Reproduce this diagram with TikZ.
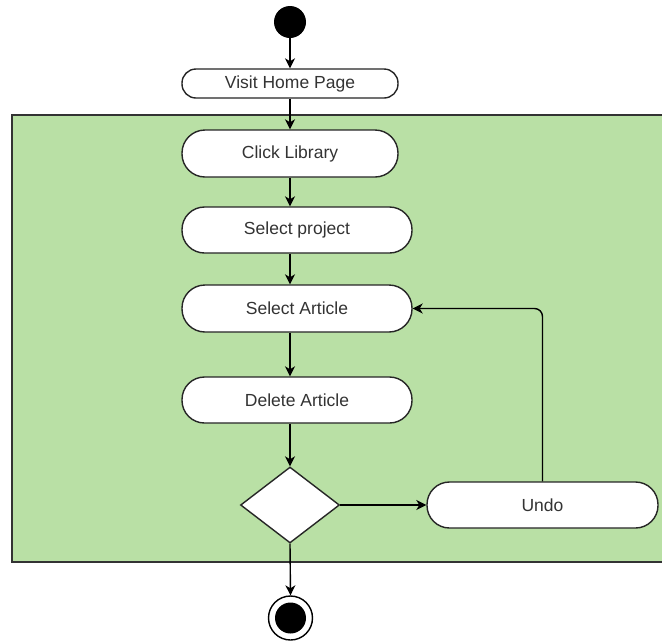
\documentclass[tikz,border=0pt]{standalone}
\usepackage{fontspec}
\setmainfont{Liberation Sans}
\usetikzlibrary{shapes.geometric,arrows.meta,calc}
\definecolor{groupgreen}{HTML}{B9E0A5}
\definecolor{txt}{HTML}{333333}
\tikzset{
  act/.style={draw=black!85, fill=white, line width=1.4pt, rectangle, inner sep=0pt,
    minimum height=#1, rounded corners=#1/2-0.5pt, text=txt,
    font=\fontsize{17.5}{20}\selectfont},
  act/.default=46pt,
  flow/.style={draw=black, line width=1.4pt, -{Stealth[length=10pt,width=10pt,inset=3pt]}},
  decision/.style={draw=black!85, fill=white, line width=1.4pt, diamond, inner sep=0pt,
    minimum width=99pt, minimum height=76pt},
}
\begin{document}
\begin{tikzpicture}[x=1pt,y=-1pt]
\useasboundingbox (0,0) rectangle (662,641);
\fill[white] (0,0) rectangle (662,641);
% group region
\draw[fill=groupgreen, draw=black!80, line width=1.4pt] (12,115) rectangle (680,562);
% nodes
\node[circle, fill=black, minimum size=32pt, inner sep=0pt] (start) at (290,22) {};
\node[act=29pt, minimum width=216pt] (visit) at (290,83.5) {Visit Home Page};
\node[act=47pt, minimum width=216pt] (click) at (290,153.5) {Click Library};
\node[act=46pt, minimum width=230pt] (proj) at (297,230) {Select project};
\node[act=47pt, minimum width=230pt] (sel) at (297,308.5) {Select Article};
\node[act=46pt, minimum width=230pt] (del) at (297,400) {Delete Article};
\node[decision] (dec) at (290,505) {};
\node[act=46pt, minimum width=231pt] (undo) at (542.5,505) {Undo};
\node[circle, draw=black, fill=white, line width=1.4pt, minimum size=44pt, inner sep=0pt] (end) at (290.5,618) {};
\node[circle, fill=black, minimum size=31pt, inner sep=0pt] (endin) at (end.center) {};
% connectors
\draw[flow] (start) -- (visit);
\draw[flow] (visit) -- (click);
\draw[flow] (click.south) -- (click.south |- proj.north);
\draw[flow] (proj.south -| start) -- (sel.north -| start);
\draw[flow] (sel.south -| start) -- (del.north -| start);
\draw[flow] (del.south -| start) -- (dec.north);
\draw[flow] (dec.east) -- (undo.west);
\draw[flow, rounded corners=8pt] (undo.north) |- (sel.east);
\draw[flow] (dec.south) -- (end.north);
\end{tikzpicture}
\end{document}
